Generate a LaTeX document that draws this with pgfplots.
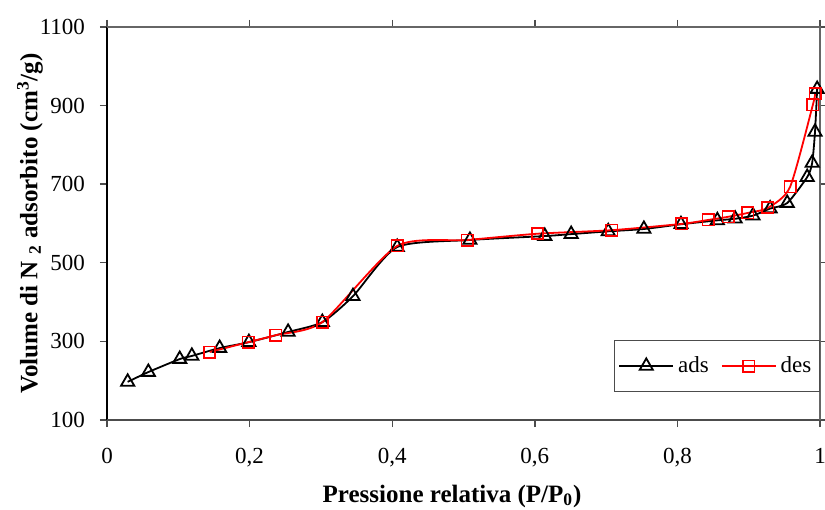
\documentclass[border=0pt]{standalone}
\usepackage{pgfplots}
\pgfplotsset{compat=1.18}
\usepackage{fontspec}
\setmainfont{Liberation Serif}
\begin{document}
\begin{tikzpicture}[x=1pt,y=1pt]
\path[use as bounding box] (0,0) rectangle (412.5,254.5);
\begin{axis}[
  at={(53.5pt,44.5pt)}, anchor=south west,
  scale only axis, width=356.5pt, height=196.5pt,
  xmin=0, xmax=1, ymin=100, ymax=1100,
  xtick={0,0.2,0.4,0.6,0.8,1},
  xticklabels={0,{0,2},{0,4},{0,6},{0,8},1},
  ytick={100,300,500,700,900,1100},
  yticklabels={100,300,500,700,900,1100},
  tick align=outside, major tick length=3.5pt,
  tick style={gray!60!black, line width=0.7pt},
  axis line style={draw=none},
  ticklabel style={font=\fontsize{11.5}{13}\selectfont},
  xticklabel style={yshift=-7pt},
  yticklabel style={xshift=-4pt},
  xlabel={\textbf{Pressione relativa (P/P\textsubscript{0})}},
  ylabel={\textbf{Volume di N \textsubscript{2} adsorbito (cm\textsuperscript{3}/g)}},
  label style={font=\fontsize{12.5}{14}\selectfont},
  xlabel style={at={(axis description cs:0.484,-0.194)}, anchor=center},
  ylabel style={at={(axis description cs:-0.108,0.5)}, anchor=center},
  clip=false,
  legend style={at={(1,0.071)}, anchor=south east, legend columns=2,
    draw=gray!60!black, line width=0.6pt, font=\fontsize{11.5}{13}\selectfont,
    inner ysep=6pt, inner xsep=2pt,
    /tikz/every even column/.append style={column sep=4pt}},
  legend image code/.code={
    \draw[mark repeat=2,mark phase=2,#1] plot coordinates {(0cm,0cm) (0.475cm,0cm) (0.95cm,0cm)};},
]
\draw[black, line width=0.8pt] (rel axis cs:0,0) -- (rel axis cs:0,1);
\draw[gray!60!black, line width=1pt] (rel axis cs:0,0) -- (rel axis cs:1,0);
\draw[gray!80!black, line width=0.8pt] (rel axis cs:0,1) -- (rel axis cs:1,1) -- (rel axis cs:1,0);
\addplot[black, line width=0.9pt, smooth, tension=0.4, mark=triangle, mark size=3.8pt,
  mark options={solid, line width=0.9pt, fill=white}] table {
x y
0.029 197
0.058 222
0.102 255
0.119 263
0.158 283
0.199 298
0.254 324
0.302 349
0.345 415
0.407 540
0.509 558
0.614 568
0.651 573
0.703 580
0.753 586
0.805 598
0.856 608
0.881 612
0.906 620
0.930 638
0.954 652
0.982 718
0.989 754
0.993 833
0.996 942
};
\addlegendentry{ads}
\addplot[red, line width=0.9pt, smooth, tension=0.4, mark=square, mark size=2.8pt,
  mark options={solid, line width=0.9pt}] table {
x y
0.144 273
0.198 298
0.237 316
0.302 349
0.407 543
0.505 558
0.604 574
0.708 583
0.806 599
0.843 609
0.871 617
0.899 627
0.927 640
0.958 693
0.990 902
0.993 930
};
\addlegendentry{des}
\end{axis}
\end{tikzpicture}
\end{document}
